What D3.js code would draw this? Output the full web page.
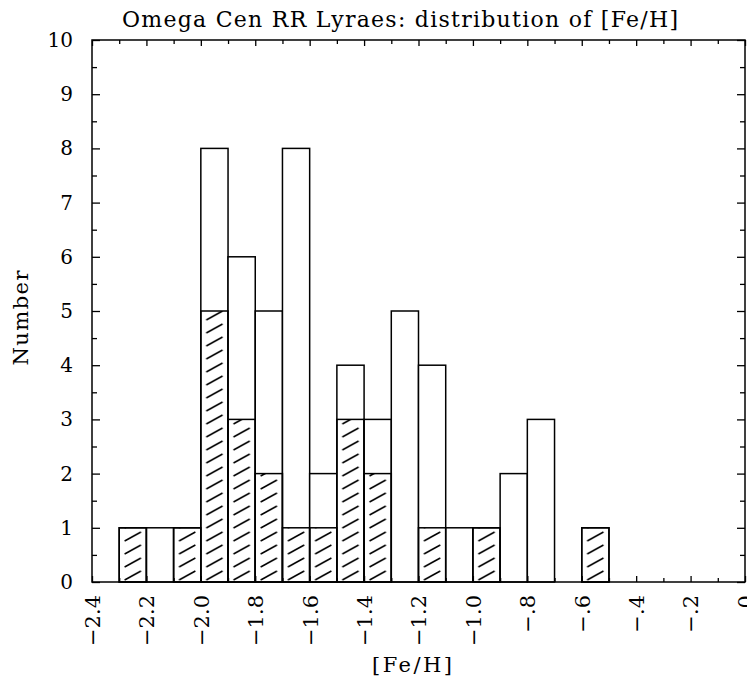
<!DOCTYPE html>
<html>
<head>
<meta charset="utf-8">
<script src="https://cdn.jsdelivr.net/npm/d3@7"></script>
<style>
  body { margin: 0; background: #fff; }
  svg text { font-family: "DejaVu Serif", serif; fill: #000; }
</style>
</head>
<body>
<svg id="chart" width="747" height="681"></svg>
<script>
// histogram bins (left edge, width 0.1 dex)
const binLeft = [-2.3, -2.2, -2.1, -2.0, -1.9, -1.8, -1.7, -1.6, -1.5, -1.4, -1.3, -1.2, -1.1, -1.0, -0.9, -0.8, -0.6];
const totalCounts = [1, 1, 1, 8, 6, 5, 8, 2, 4, 3, 5, 4, 1, 1, 2, 3, 1];
const hatchedCounts = [1, 0, 1, 5, 3, 2, 1, 1, 3, 2, 0, 1, 0, 1, 0, 0, 1];
const binWidth = 0.1;

const xMajor = [-2.4, -2.2, -2.0, -1.8, -1.6, -1.4, -1.2, -1.0, -0.8, -0.6, -0.4, -0.2, 0];
const xLabels = ["\u22122.4", "\u22122.2", "\u22122.0", "\u22121.8", "\u22121.6", "\u22121.4", "\u22121.2", "\u22121.0", "\u2212.8", "\u2212.6", "\u2212.4", "\u2212.2", "0"];
const xMinor = [-2.3, -2.1, -1.9, -1.7, -1.5, -1.3, -1.1, -0.9, -0.7, -0.5, -0.3, -0.1];
const yMajor = [0, 1, 2, 3, 4, 5, 6, 7, 8, 9, 10];
const yMinor = [0.5, 1.5, 2.5, 3.5, 4.5, 5.5, 6.5, 7.5, 8.5, 9.5];

const margin = { top: 40, right: 2, bottom: 99, left: 92 };
const svg = d3.select("#chart");
const W = +svg.attr("width"), H = +svg.attr("height");

const x = d3.scaleLinear().domain([-2.4, 0]).range([margin.left, W - margin.right]);
const y = d3.scaleLinear().domain([0, 10]).range([H - margin.bottom, margin.top]);

const bins = binLeft.map((b, i) => ({ x0: b, x1: b + binWidth, total: totalCounts[i], hatched: hatchedCounts[i] }));

// hatching pattern, lined up with the bin grid
const bw = x(-2.3) - x(-2.4);
const pat = svg.append("defs").append("pattern")
    .attr("id", "hatch")
    .attr("patternUnits", "userSpaceOnUse")
    .attr("x", x(-2.4))
    .attr("y", y(0))
    .attr("width", bw)
    .attr("height", 13);
pat.append("line")
    .attr("x1", bw * 0.2).attr("y1", 11)
    .attr("x2", bw * 0.8).attr("y2", 2)
    .attr("stroke", "#000").attr("stroke-width", 1.5);

const g = svg.append("g");

// total bars
g.selectAll(".total")
  .data(bins.filter(d => d.total > 0))
  .enter().append("rect")
    .attr("x", d => x(d.x0))
    .attr("y", d => y(d.total))
    .attr("width", d => x(d.x1) - x(d.x0))
    .attr("height", d => y(0) - y(d.total))
    .attr("fill", "#fff")
    .attr("stroke", "#000")
    .attr("stroke-width", 1.5);

// hatched subset
g.selectAll(".hatched")
  .data(bins.filter(d => d.hatched > 0))
  .enter().append("rect")
    .attr("x", d => x(d.x0))
    .attr("y", d => y(d.hatched))
    .attr("width", d => x(d.x1) - x(d.x0))
    .attr("height", d => y(0) - y(d.hatched))
    .attr("fill", "url(#hatch)")
    .attr("stroke", "#000")
    .attr("stroke-width", 1.5);

// inward ticks on all four sides
function ticks(axis, transform) {
  const a = svg.append("g").attr("transform", transform).call(axis);
  a.select(".domain").remove();
  a.selectAll("line").attr("stroke-width", 1.3);
  return a;
}
const bottomAxis = ticks(d3.axisBottom(x).tickValues(xMajor).tickSize(-6)
    .tickFormat((d, i) => xLabels[i]), `translate(0,${y(0)})`);
ticks(d3.axisBottom(x).tickValues(xMinor).tickSize(-4).tickFormat(""), `translate(0,${y(0)})`);
ticks(d3.axisTop(x).tickValues(xMajor).tickSize(-6).tickFormat(""), `translate(0,${y(10)})`);
ticks(d3.axisTop(x).tickValues(xMinor).tickSize(-4).tickFormat(""), `translate(0,${y(10)})`);

const leftAxis = ticks(d3.axisLeft(y).tickValues(yMajor).tickSize(-8).tickFormat(d3.format("d")), `translate(${x(-2.4)},0)`);
ticks(d3.axisLeft(y).tickValues(yMinor).tickSize(-5).tickFormat(""), `translate(${x(-2.4)},0)`);
ticks(d3.axisRight(y).tickValues(yMajor).tickSize(-8).tickFormat(""), `translate(${x(0)},0)`);
ticks(d3.axisRight(y).tickValues(yMinor).tickSize(-5).tickFormat(""), `translate(${x(0)},0)`);

bottomAxis.selectAll("text")
    .attr("transform", "rotate(-90)")
    .attr("x", -13)
    .attr("y", 0)
    .attr("dy", "0.35em")
    .style("text-anchor", "end")
    .style("font-size", "21px")
    .style("font-family", "DejaVu Serif, serif");

leftAxis.selectAll("text")
    .attr("x", -19)
    .style("font-size", "20px")
    .style("font-family", "DejaVu Serif, serif");

// frame
svg.append("rect")
    .attr("x", x(-2.4)).attr("y", y(10))
    .attr("width", x(0) - x(-2.4))
    .attr("height", y(0) - y(10))
    .attr("fill", "none")
    .attr("stroke", "#000")
    .attr("stroke-width", 1.5);

// titles
svg.append("text")
    .attr("x", 400).attr("y", 27)
    .attr("text-anchor", "middle")
    .attr("textLength", 556)
    .attr("lengthAdjust", "spacing")
    .style("font-size", "22px")
    .text("Omega Cen RR Lyraes: distribution of [Fe/H]");

svg.append("text")
    .attr("x", 412).attr("y", 672)
    .attr("text-anchor", "middle")
    .attr("textLength", 80)
    .attr("lengthAdjust", "spacing")
    .style("font-size", "21px")
    .text("[Fe/H]");

svg.append("text")
    .attr("transform", `translate(28,318) rotate(-90)`)
    .attr("text-anchor", "middle")
    .attr("textLength", 95)
    .attr("lengthAdjust", "spacing")
    .style("font-size", "21px")
    .text("Number");
</script>
</body>
</html>
